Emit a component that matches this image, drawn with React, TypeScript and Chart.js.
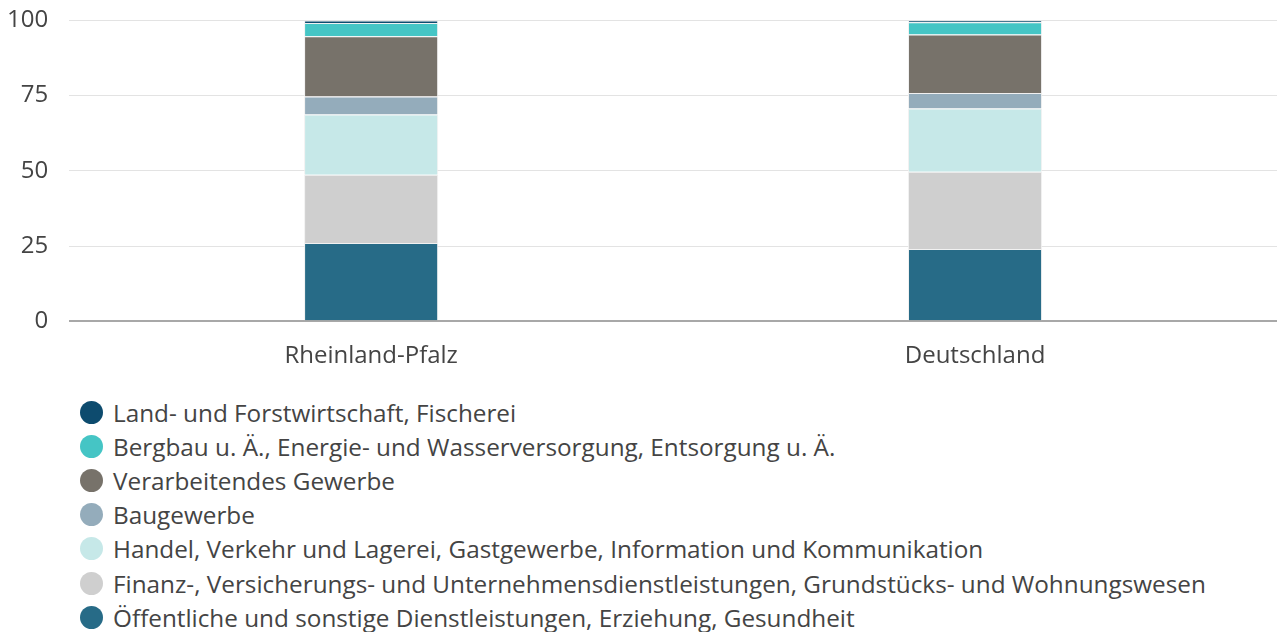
import React, { useEffect, useRef } from "react";
import { Chart, registerables } from "chart.js";

Chart.register(...registerables);

const categories = ["Rheinland-Pfalz", "Deutschland"];

const seriesNames = [
  "Öffentliche und sonstige Dienstleistungen, Erziehung, Gesundheit",
  "Finanz-, Versicherungs- und Unternehmensdienstleistungen, Grundstücks- und Wohnungswesen",
  "Handel, Verkehr und Lagerei, Gastgewerbe, Information und Kommunikation",
  "Baugewerbe",
  "Verarbeitendes Gewerbe",
  "Bergbau u. Ä., Energie- und Wasserversorgung, Entsorgung u. Ä.",
  "Land- und Forstwirtschaft, Fischerei",
];

const oeffentliche = [26.0, 24.0];
const finanz = [22.7, 25.7];
const handel = [20.0, 21.0];
const baugewerbe = [6.0, 5.2];
const verarbeitendes = [20.0, 19.4];
const bergbau = [4.4, 4.1];
const land = [0.9, 0.6];

const seriesValues = [oeffentliche, finanz, handel, baugewerbe, verarbeitendes, bergbau, land];

const seriesColors = ["#276b87", "#cfcfcf", "#c6e8e8", "#94acbb", "#77726a", "#45c5c5", "#0d4b6e"];

const yTicks = [0, 25, 50, 75, 100];

const FONT = "'Open Sans', sans-serif";

export default function App() {
  const ref = useRef<HTMLCanvasElement | null>(null);

  useEffect(() => {
    if (!ref.current) return;
    const chart = new Chart(ref.current, {
      type: "bar",
      data: {
        labels: categories,
        datasets: seriesNames.map((name, i) => ({
          label: name,
          data: seriesValues[i],
          backgroundColor: seriesColors[i],
          borderColor: "rgba(240,240,240,0.9)",
          borderWidth: 1,
          barPercentage: 0.222,
          categoryPercentage: 1,
        })),
      },
      options: {
        animation: false,
        responsive: true,
        maintainAspectRatio: false,
        layout: { padding: { top: 0, bottom: -2, left: -14, right: 0 } },
        plugins: {
          legend: { display: false },
          tooltip: { enabled: false },
        },
        scales: {
          x: {
            stacked: true,
            grid: { display: false },
            border: { display: false },
            ticks: { color: "#444", font: { family: FONT, size: 24 }, padding: 13 },
          },
          y: {
            stacked: true,
            min: 0,
            max: 100,
            afterBuildTicks: (axis: any) => {
              axis.ticks = yTicks.map((v) => ({ value: v }));
            },
            border: { display: false },
            grid: {
              drawTicks: false,
              color: (ctx: any) => (ctx.tick && ctx.tick.value === 0 ? "#a8a8a8" : "#e3e3e3"),
              lineWidth: (ctx: any) => (ctx.tick && ctx.tick.value === 0 ? 2 : 1),
            },
            ticks: { color: "#444", font: { family: FONT, size: 24 }, padding: 21 },
          },
        },
      },
    });
    return () => chart.destroy();
  }, []);

  const legendOrder = seriesNames.map((_, i) => i).reverse();

  return (
    <div style={{ position: "fixed", left: 0, top: 0, width: 1277, height: 632, background: "#fff", overflow: "hidden" }}>
      <div style={{ position: "relative", width: 1277, height: 397, marginTop: -15 }}>
        <canvas ref={ref} />
      </div>
      <div style={{ paddingLeft: 80, marginTop: 13, fontFamily: FONT, fontSize: 24.3, color: "#444" }}>
        {legendOrder.map((i) => (
          <div key={i} style={{ display: "flex", alignItems: "center", height: 34.2 }}>
            <span
              style={{
                display: "inline-block",
                width: 23,
                height: 23,
                borderRadius: "50%",
                background: seriesColors[i],
                marginRight: 10,
                flexShrink: 0,
              }}
            />
            <span style={{ whiteSpace: "nowrap" }}>{seriesNames[i]}</span>
          </div>
        ))}
      </div>
    </div>
  );
}
